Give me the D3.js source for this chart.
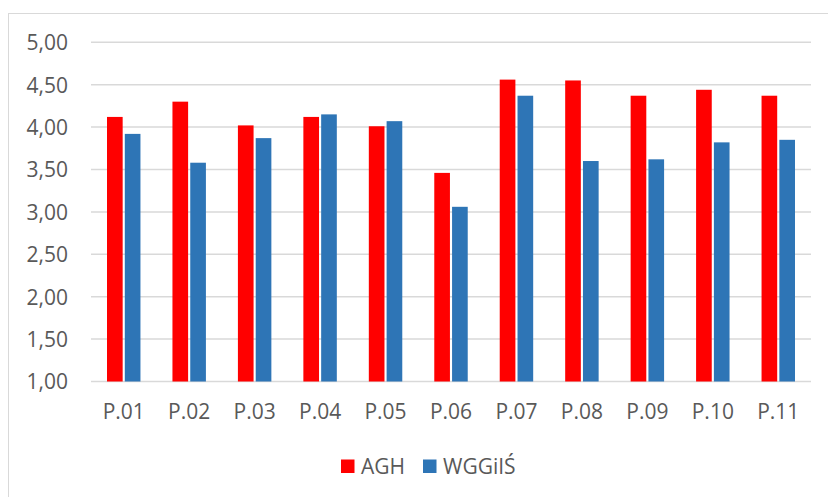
<!DOCTYPE html>
<html>
<head>
<meta charset="utf-8">
<script src="https://cdn.jsdelivr.net/npm/d3@7"></script>
<style>
  html, body { margin: 0; padding: 0; background: #fff; }
  svg { display: block; }
</style>
</head>
<body>
<svg id="chart" width="828" height="497"></svg>
<script>
const categories = ["P.01","P.02","P.03","P.04","P.05","P.06","P.07","P.08","P.09","P.10","P.11"];
const seriesNames = ["AGH", "WGGiIŚ"];
const aghValues = [4.12, 4.30, 4.02, 4.12, 4.01, 3.46, 4.56, 4.55, 4.37, 4.44, 4.37];
const wggisValues = [3.92, 3.58, 3.87, 4.15, 4.07, 3.06, 4.37, 3.60, 3.62, 3.82, 3.85];
const yTicks = [1.0, 1.5, 2.0, 2.5, 3.0, 3.5, 4.0, 4.5, 5.0];
const colors = ["#ff0000", "#2e75b6"];

const svg = d3.select("#chart");
const W = 828, H = 497;
const fontFamily = "'Open Sans', sans-serif";
const fontSize = 21;
const textColor = "#595959";

// chart border
svg.append("rect")
  .attr("x", 8.5).attr("y", 13.5)
  .attr("width", W).attr("height", H)
  .attr("fill", "#fff").attr("stroke", "#d9d9d9").attr("stroke-width", 1);

const plot = { left: 91, right: 811, top: 42.3, bottom: 381.5 };

const x = d3.scaleBand().domain(categories).range([plot.left, plot.right]).paddingInner(0).paddingOuter(0);
const y = d3.scaleLinear().domain([1, 5]).range([plot.bottom, plot.top]);
const x1 = d3.scaleBand().domain(seriesNames).range([16, x.bandwidth() - 16]).paddingInner(0.12);

// gridlines
svg.append("g")
  .selectAll("line").data(yTicks).join("line")
  .attr("x1", plot.left).attr("x2", plot.right)
  .attr("y1", d => y(d)).attr("y2", d => y(d))
  .attr("stroke", "#d9d9d9").attr("stroke-width", 1.5);

// y axis labels
const fmt = d => d3.format(".2f")(d).replace(".", ",");
const yAxis = d3.axisLeft(y).tickValues(yTicks).tickFormat(fmt).tickSize(0).tickPadding(0);
const yg = svg.append("g").attr("transform", `translate(${68},0)`).call(yAxis);
yg.select(".domain").remove();
yg.selectAll("text").attr("font-family", fontFamily).attr("font-size", fontSize).attr("fill", textColor).attr("dy", "0.35em");

// bars
const data = categories.map((c, i) => ({ cat: c, vals: [aghValues[i], wggisValues[i]] }));
const groups = svg.append("g").selectAll("g").data(data).join("g")
  .attr("transform", d => `translate(${x(d.cat)},0)`);
groups.selectAll("rect").data(d => d.vals.map((v, j) => ({ key: seriesNames[j], v, j })))
  .join("rect")
  .attr("x", d => x1(d.key))
  .attr("width", x1.bandwidth())
  .attr("y", d => y(d.v))
  .attr("height", d => y(1) - y(d.v))
  .attr("fill", d => colors[d.j]);

// x axis labels
const xAxis = d3.axisBottom(x).tickSize(0).tickPadding(0);
const xg = svg.append("g").attr("transform", `translate(0,${412})`).call(xAxis);
xg.select(".domain").remove();
xg.selectAll("text").attr("font-family", fontFamily).attr("font-size", fontSize).attr("fill", textColor).attr("dy", "0.35em");

// legend
const legend = svg.append("g");
const legendItems = [{ name: seriesNames[0], color: colors[0], x: 341 }, { name: seriesNames[1], color: colors[1], x: 423 }];
legendItems.forEach(it => {
  legend.append("rect").attr("x", it.x).attr("y", 459.5).attr("width", 13.5).attr("height", 13.5).attr("fill", it.color);
  legend.append("text").attr("x", it.x + 20).attr("y", 466.5).attr("dy", "0.35em")
    .attr("font-family", fontFamily).attr("font-size", fontSize).attr("fill", textColor).text(it.name);
});
</script>
</body>
</html>
